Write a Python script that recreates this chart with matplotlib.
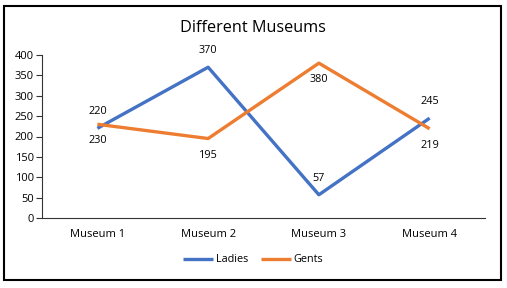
import matplotlib.pyplot as plt
from matplotlib.patches import Rectangle

plt.rcParams['font.family'] = ['Open Sans', 'DejaVu Sans']

museums = ['Museum 1', 'Museum 2', 'Museum 3', 'Museum 4']
ladies = [220, 370, 57, 245]
gents = [230, 195, 380, 219]
yticks = [0, 50, 100, 150, 200, 250, 300, 350, 400]

blue = '#4472C4'
orange = '#ED7D31'

fig = plt.figure(figsize=(5.07, 2.88), dpi=100)
ax = fig.add_axes([42 / 507, 1 - 218 / 288, 443 / 507, 163 / 288])

x = range(len(museums))
ax.plot(x, ladies, color=blue, lw=2.4, label='Ladies', solid_capstyle='butt')
ax.plot(x, gents, color=orange, lw=2.4, label='Gents', solid_capstyle='butt')

for i, v in enumerate(ladies):
    ax.annotate(str(v), (i, v), xytext=(0, 8), textcoords='offset points',
                ha='center', va='bottom', fontsize=7.8)
for i, v in enumerate(gents):
    ax.annotate(str(v), (i, v), xytext=(0, -8), textcoords='offset points',
                ha='center', va='top', fontsize=7.8)

ax.set_xlim(-0.5, 3.5)
ax.set_ylim(0, 400)
ax.set_yticks(yticks)
ax.set_xticks(list(x))
ax.set_xticklabels(museums)
ax.tick_params(axis='y', length=4, width=0.8, labelsize=8, pad=2, color='#333333')
ax.tick_params(axis='x', length=0, labelsize=8, pad=8)
for s in ['top', 'right']:
    ax.spines[s].set_visible(False)
for s in ['left', 'bottom']:
    ax.spines[s].set_color('#333333')
    ax.spines[s].set_linewidth(0.8)

fig.text(253 / 507, 1 - 28 / 288, 'Different Museums', ha='center', va='center', fontsize=11.7)

fig.legend(loc='center', bbox_to_anchor=(253 / 507, 1 - 260 / 288), ncol=2, frameon=False,
           fontsize=7.8, handlelength=2.8, handletextpad=0.2, columnspacing=1.2)

fig.patches.append(Rectangle((4 / 507, 1 - 280 / 288), 497 / 507, 274 / 288,
                             transform=fig.transFigure, fill=False, ec='black', lw=1.5))

fig.savefig('out.png', dpi=100)
